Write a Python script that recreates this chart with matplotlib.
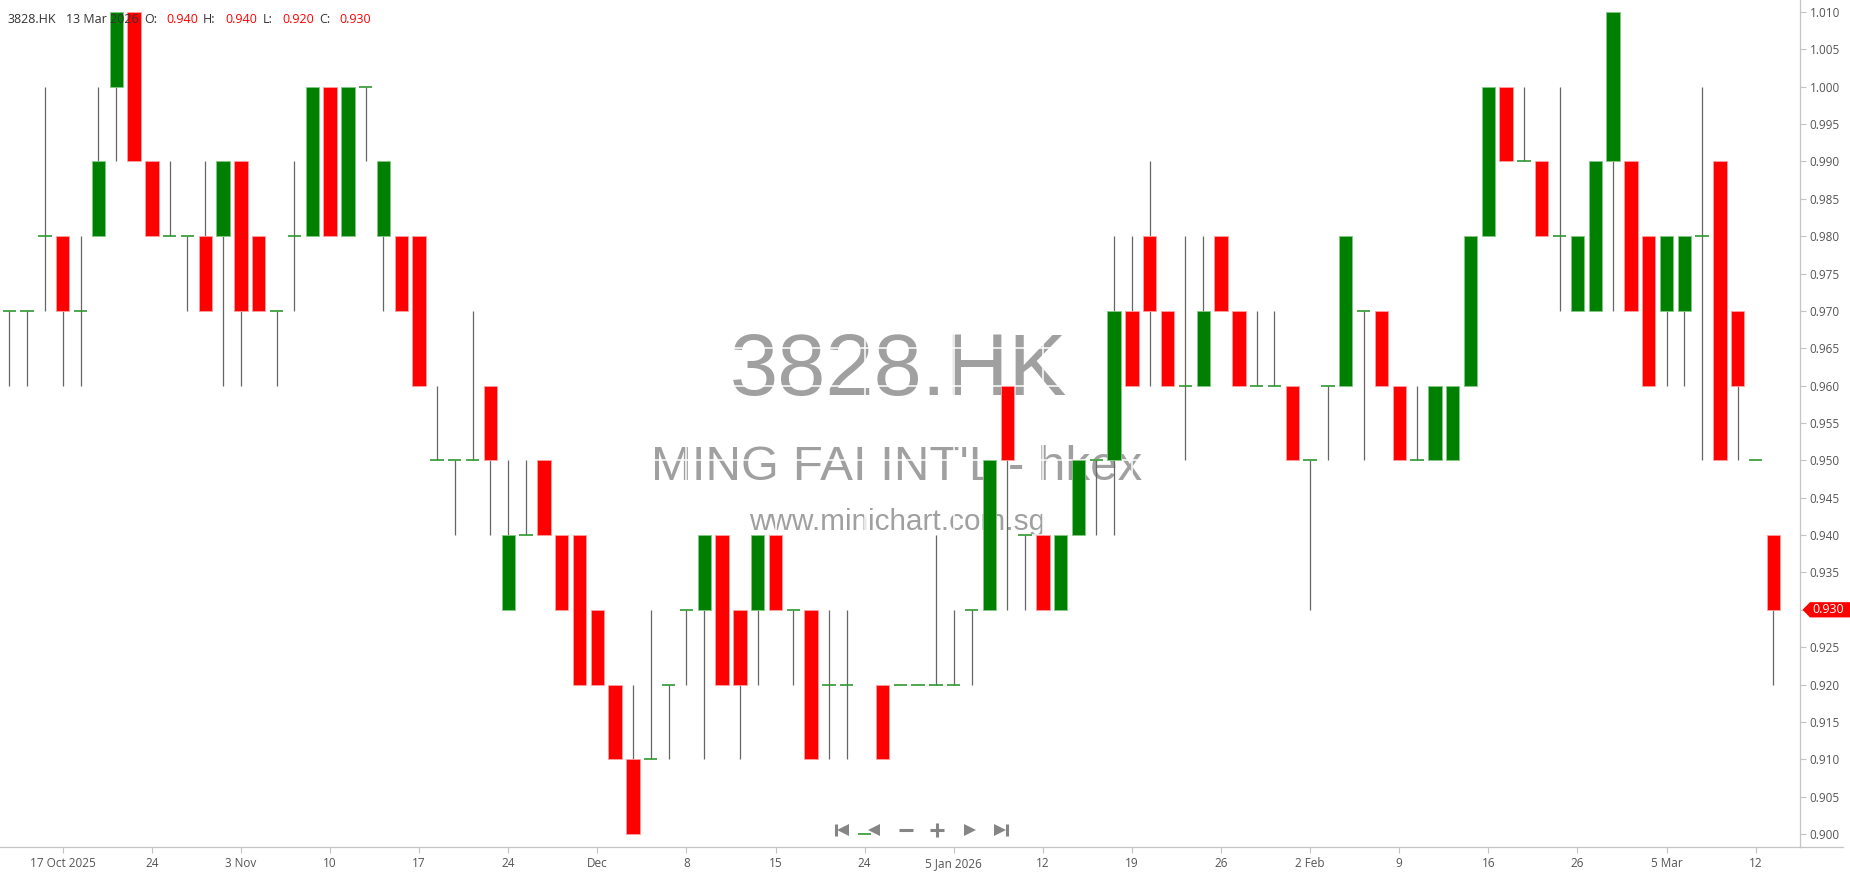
import numpy as np
import matplotlib
matplotlib.use("Agg")
import matplotlib.pyplot as plt
import matplotlib.transforms as mtransforms
from matplotlib.lines import Line2D
from matplotlib.patches import Polygon

plt.rcParams['font.family'] = ['Open Sans', 'DejaVu Sans']

# ============================================================
# data  (3828.HK daily, 100 sessions ending 13 Mar 2026)
# ============================================================
symbol = "3828.HK"
company = "MING FAI INT'L - hkex"
site = "www.minichart.com.sg"
last_date = "13 Mar 2026"

opens = [0.970, 0.970, 0.980, 0.980, 0.970, 0.980, 1.000, 1.010, 0.990, 0.980,
         0.980, 0.980, 0.980, 0.990, 0.980, 0.970, 0.980, 0.980, 1.000, 0.980,
         1.000, 0.980, 0.980, 0.980, 0.950, 0.950, 0.950, 0.960, 0.930, 0.940,
         0.950, 0.940, 0.940, 0.930, 0.920, 0.910, 0.910, 0.920, 0.930, 0.930,
         0.940, 0.930, 0.930, 0.940, 0.930, 0.930, 0.920, 0.920, 0.900, 0.920,
         0.920, 0.920, 0.920, 0.920, 0.930, 0.930, 0.960, 0.940, 0.940, 0.930,
         0.940, 0.950, 0.950, 0.970, 0.980, 0.970, 0.960, 0.960, 0.980, 0.970,
         0.960, 0.960, 0.960, 0.950, 0.960, 0.960, 0.970, 0.970, 0.960, 0.950,
         0.950, 0.950, 0.960, 0.980, 1.000, 0.990, 0.990, 0.980, 0.970, 0.970,
         0.990, 0.990, 0.980, 0.970, 0.970, 0.980, 0.990, 0.970, 0.950, 0.940]
highs = [0.970, 0.970, 1.000, 0.980, 0.980, 1.000, 1.010, 1.010, 0.990, 0.990,
         0.980, 0.990, 0.990, 0.990, 0.980, 0.970, 0.990, 1.000, 1.000, 1.000,
         1.000, 0.990, 0.980, 0.980, 0.960, 0.950, 0.970, 0.960, 0.950, 0.950,
         0.950, 0.940, 0.940, 0.930, 0.920, 0.920, 0.930, 0.920, 0.930, 0.940,
         0.940, 0.930, 0.940, 0.940, 0.930, 0.930, 0.930, 0.930, 0.900, 0.920,
         0.920, 0.920, 0.940, 0.930, 0.930, 0.950, 0.960, 0.940, 0.940, 0.940,
         0.950, 0.950, 0.980, 0.980, 0.990, 0.970, 0.980, 0.980, 0.980, 0.970,
         0.970, 0.970, 0.960, 0.950, 0.960, 0.980, 0.970, 0.970, 0.960, 0.960,
         0.960, 0.960, 0.980, 1.000, 1.000, 1.000, 0.990, 1.000, 0.980, 0.990,
         1.010, 0.990, 0.980, 0.980, 0.980, 1.000, 0.990, 0.970, 0.950, 0.940]
lows = [0.960, 0.960, 0.970, 0.960, 0.960, 0.980, 0.990, 0.990, 0.980, 0.980,
        0.970, 0.970, 0.960, 0.960, 0.970, 0.960, 0.970, 0.980, 0.980, 0.980,
        0.990, 0.970, 0.970, 0.960, 0.950, 0.940, 0.950, 0.940, 0.930, 0.940,
        0.940, 0.930, 0.920, 0.920, 0.910, 0.900, 0.910, 0.910, 0.920, 0.910,
        0.920, 0.910, 0.920, 0.930, 0.920, 0.910, 0.910, 0.910, 0.900, 0.910,
        0.920, 0.920, 0.920, 0.920, 0.920, 0.930, 0.930, 0.930, 0.930, 0.930,
        0.940, 0.940, 0.940, 0.960, 0.960, 0.960, 0.950, 0.960, 0.970, 0.960,
        0.960, 0.960, 0.950, 0.930, 0.950, 0.960, 0.950, 0.960, 0.950, 0.950,
        0.950, 0.950, 0.960, 0.980, 0.990, 0.990, 0.980, 0.970, 0.970, 0.970,
        0.970, 0.970, 0.960, 0.960, 0.960, 0.950, 0.950, 0.950, 0.950, 0.920]
closes = [0.970, 0.970, 0.980, 0.970, 0.970, 0.990, 1.010, 0.990, 0.980, 0.980,
          0.980, 0.970, 0.990, 0.970, 0.970, 0.970, 0.980, 1.000, 0.980, 1.000,
          1.000, 0.990, 0.970, 0.960, 0.950, 0.950, 0.950, 0.950, 0.940, 0.940,
          0.940, 0.930, 0.920, 0.920, 0.910, 0.900, 0.910, 0.920, 0.930, 0.940,
          0.920, 0.920, 0.940, 0.930, 0.930, 0.910, 0.920, 0.920, 0.900, 0.910,
          0.920, 0.920, 0.920, 0.920, 0.930, 0.950, 0.950, 0.940, 0.930, 0.940,
          0.950, 0.950, 0.970, 0.960, 0.970, 0.960, 0.960, 0.970, 0.970, 0.960,
          0.960, 0.960, 0.950, 0.950, 0.960, 0.980, 0.970, 0.960, 0.950, 0.950,
          0.960, 0.960, 0.980, 1.000, 0.990, 0.990, 0.980, 0.980, 0.980, 0.990,
          1.010, 0.970, 0.960, 0.980, 0.980, 0.980, 0.950, 0.960, 0.950, 0.930]

tick_pos = [3, 8, 13, 18, 23, 28, 33, 38, 43, 48,
            53, 58, 63, 68, 73, 78, 83, 88, 93, 98]
tick_labels = ["17 Oct 2025", "24", "3 Nov", "10", "17", "24", "Dec", "8", "15", "24",
               "5 Jan 2026", "12", "19", "26", "2 Feb", "9", "16", "26", "5 Mar", "12"]
price_ticks = [0.900, 0.905, 0.910, 0.915, 0.920, 0.925, 0.930, 0.935, 0.940, 0.945,
               0.950, 0.955, 0.960, 0.965, 0.970, 0.975, 0.980, 0.985, 0.990, 0.995,
               1.000, 1.005, 1.010]

# ============================================================
# figure
# ============================================================
W, H = 1850, 874
fig = plt.figure(figsize=(W / 100, H / 100), dpi=100)
ax = fig.add_axes([0, 27 / H, 1800 / W, 847 / H])

o = np.array(opens)
h = np.array(highs)
l = np.array(lows)
c = np.array(closes)
x = np.arange(len(o))
up = c > o + 1e-9
down = c < o - 1e-9
flat = ~(up | down)
bw = 0.75

ax.vlines(x, l, h, color="#666666", lw=0.9, zorder=2)
ax.bar(x[up], (c - o)[up], bottom=o[up], width=bw, color="#008000",
       edgecolor="#86c886", lw=0.6, zorder=3)
ax.bar(x[down], (o - c)[down], bottom=c[down], width=bw, color="#ff0000",
       edgecolor="#ffa0a0", lw=0.6, zorder=3)
ax.hlines(o[flat], x[flat] - bw / 2, x[flat] + bw / 2, color="#2f9a2f", lw=1.2, zorder=3)

ax.set_xlim(-0.52, 100.49)
ax.set_ylim(0.89826, 1.0116)

last = closes[-1]

# axes / ticks
ax.set_xticks(tick_pos)
ax.set_xticklabels(tick_labels)
ax.yaxis.tick_right()
ax.set_yticks(price_ticks)
# the last-price tag covers its own tick label
ax.set_yticklabels(["" if abs(v - last) < 1e-9 else f"{v:.3f}" for v in price_ticks])
ax.tick_params(axis="both", colors="#c4c4c4", labelcolor="#555555",
               labelsize=8.5, length=4, width=0.8)
ax.tick_params(axis="y", pad=3)
ax.tick_params(axis="x", pad=3)
for s in ["left", "top"]:
    ax.spines[s].set_visible(False)
for s in ["right", "bottom"]:
    ax.spines[s].set_color("#c4c4c4")
    ax.spines[s].set_linewidth(0.9)
fig.add_artist(Line2D([1800 / W, 1843 / W], [27 / H, 27 / H], color="#c4c4c4", lw=0.9))

# white grid only shows over the watermark
ax.grid(True, color="white", lw=1.1)
ax.set_axisbelow(True)

# watermark
wm = dict(transform=ax.transAxes, ha="center", va="baseline", color="#a0a0a0",
          family="Liberation Sans", zorder=0.1)
ax.text(898 / 1800, 1 - 395 / 847, symbol, fontsize=62.5, **wm)
ax.text(897 / 1800, 1 - 480 / 847, company, fontsize=35.5, **wm)
ax.text(897 / 1800, 1 - 530 / 847, site, fontsize=21.4, **wm)

# header OHLC line (drawn over the candles)
header = [(symbol, 7, "#333333"), (last_date, 66, "#333333"),
          ("O:", 144, "#333333"), (f"{opens[-1]:.3f}", 166, "#ff0000"),
          ("H:", 203, "#333333"), (f"{highs[-1]:.3f}", 225, "#ff0000"),
          ("L:", 263, "#333333"), (f"{lows[-1]:.3f}", 282, "#ff0000"),
          ("C:", 319, "#333333"), (f"{closes[-1]:.3f}", 339, "#ff0000")]
for txt, px, col in header:
    ax.text(px / 1800, 1 - 23 / 847, txt, transform=ax.transAxes, fontsize=9,
            color=col, va="baseline", ha="left", zorder=5)

# last price tag on the axis
tr = mtransforms.blended_transform_factory(fig.transFigure, ax.transData)
hh = 0.00102
tag = Polygon([(1802.5 / W, last), (1810 / W, last + hh), (1850 / W, last + hh),
               (1850 / W, last - hh), (1810 / W, last - hh)],
              closed=True, facecolor="#ff0000", edgecolor="none",
              transform=tr, clip_on=False)
fig.add_artist(tag)
fig.text(1812 / W, last, f"{last:.3f}", transform=tr, color="white",
         fontsize=9, va="center", ha="left")

# navigation buttons
ny = 1 - 830 / H
nav = dict(color="#858585", ls="none")
fig.add_artist(Line2D([836 / W], [ny], marker="|", ms=9, mew=2.2, **nav))
fig.add_artist(Line2D([843 / W], [ny], marker="<", ms=8, mew=0, **nav))
fig.add_artist(Line2D([874 / W], [ny], marker="<", ms=8, mew=0, **nav))
fig.add_artist(Line2D([905.5 / W], [ny], marker="_", ms=10, mew=2.2, **nav))
fig.add_artist(Line2D([937 / W], [ny], marker="+", ms=10, mew=2.2, **nav))
fig.add_artist(Line2D([970 / W], [ny], marker=">", ms=8, mew=0, **nav))
fig.add_artist(Line2D([1000 / W], [ny], marker=">", ms=8, mew=0, **nav))
fig.add_artist(Line2D([1007 / W], [ny], marker="|", ms=9, mew=2.2, **nav))

fig.savefig("out.png", dpi=100, facecolor="white")
